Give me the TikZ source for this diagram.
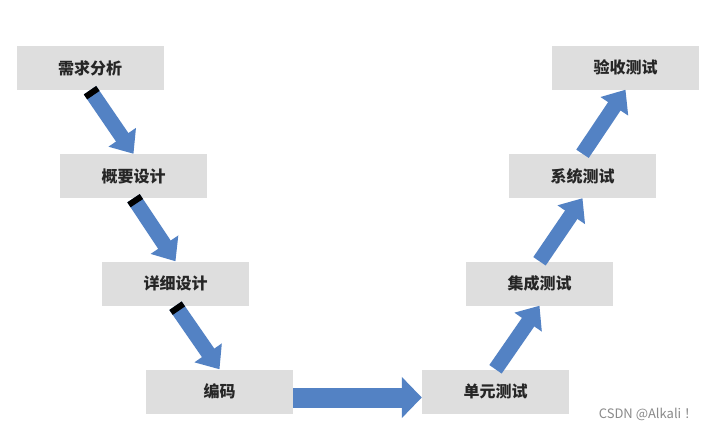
\documentclass[tikz,border=0pt]{standalone}
\usepackage{fontspec}
\newfontfamily\cjk{Noto Sans CJK SC}
\usetikzlibrary{arrows.meta,calc}
\definecolor{boxgray}{HTML}{DEDEDE}
\definecolor{flow}{HTML}{5382C4}
\definecolor{mark}{HTML}{8A8A8A}
\tikzset{
  vstage/.style={fill=boxgray,minimum width=147pt,minimum height=44pt,inner sep=0pt,font=\cjk\fontsize{16}{18}\selectfont\bfseries,text=black!85},
  vflow/.style={-{Triangle[width=32pt,length=20pt]},line width=15pt,draw=flow},
  vflat/.style={-{Triangle[width=40pt,length=20pt]},line width=20pt,draw=flow},
  vtail/.style={line width=15pt,draw=black}
}

\begin{document}
\begin{tikzpicture}[x=1pt,y=-1pt]
  \useasboundingbox[fill=white] (0,0) rectangle (713,431);
  \node[vstage] (req) at (90,68) {需求分析};
  \node[vstage] (outline) at (133.5,176) {概要设计};
  \node[vstage] (detail) at (175.5,283.5) {详细设计};
  \node[vstage] (code) at (219.5,391.5) {编码};
  \node[vstage] (unit) at (495.5,391.5) {单元测试};
  \node[vstage] (integ) at (539.5,283.5) {集成测试};
  \node[vstage] (system) at (582.5,176) {系统测试};
  \node[vstage] (accept) at (625.5,67.5) {验收测试};
  \draw[vflow] (req.south) -- (outline.north);
  \draw[vflow] (outline.south) -- (detail.north);
  \draw[vflow] (detail.south) -- (code.north);
  \draw[vtail] (req.south) -- ($(req.south)!6pt!(outline.north)$);
  \draw[vtail] (outline.south) -- ($(outline.south)!6pt!(detail.north)$);
  \draw[vtail] (detail.south) -- ($(detail.south)!6pt!(code.north)$);
  \draw[vflat] ([yshift=-6pt]code.east) -- ([yshift=-6pt]unit.west);
  \draw[vflow] (unit.north) -- (integ.south);
  \draw[vflow] (integ.north) -- (system.south);
  \draw[vflow] (system.north) -- (accept.south);
  \node[text=mark,font=\cjk\fontsize{13}{15}\selectfont] (tag) at (648,414) {CSDN @Alkali ！};
\end{tikzpicture}
\end{document}
